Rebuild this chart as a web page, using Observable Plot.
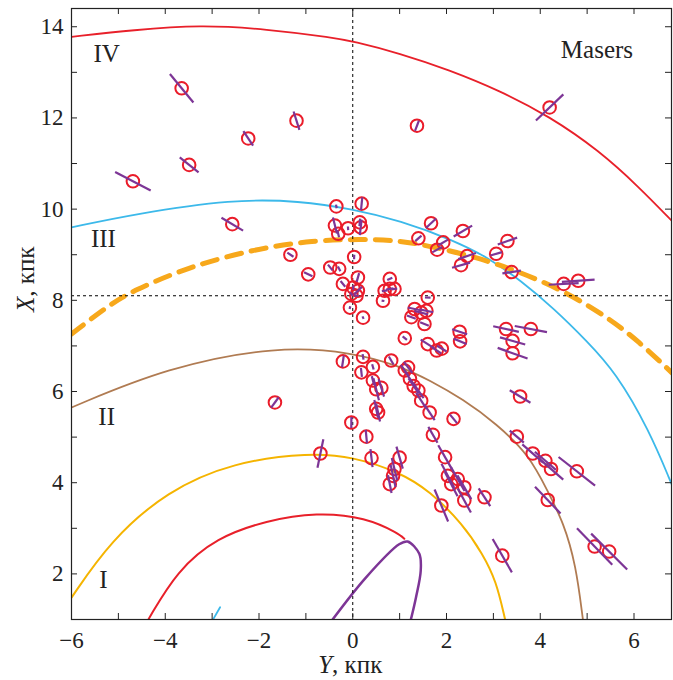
<!DOCTYPE html>
<html><head><meta charset="utf-8">
<script src="https://cdn.jsdelivr.net/npm/d3@7"></script>
<script src="https://cdn.jsdelivr.net/npm/@observablehq/plot@0.6"></script>
<style>body{margin:0;background:#fff}</style>
</head><body><div id="chart"></div>
<script>
// ---- Maser positions (Y, X in kpc) and distance error half-length (kpc)
const masY = [-3.65,-1.20,-2.23,-3.49,-4.69,-2.57,-1.33,-0.95,-0.48,-0.29,-1.66,-0.69,4.20,1.37,-0.35,0.19,1.67,2.35,1.40,1.93,1.80,3.30,3.06,2.44,2.31,3.39,4.50,4.81,
-0.38,-0.31,-0.10,0.15,0.17,0.03,
-0.21,0.11,0.01,0.11,-0.03,0.08,-0.06,0.22,0.79,0.79,0.68,0.89,0.645,
1.60,1.32,1.46,1.57,1.25,1.53,1.11,2.28,2.29,1.60,1.90,1.79,3.27,3.80,3.41,3.41,3.57,
-0.21,0.22,0.185,0.43,0.82,1.18,1.11,0.43,0.50,0.61,1.22,1.30,1.40,1.46,1.64,0.50,0.54,-0.03,0.29,1.71,2.15,0.40,1.00,0.89,0.86,0.79,1.97,2.03,2.24,2.10,2.38,2.38,2.81,1.89,3.19,5.16,5.47,3.50,3.84,4.11,4.23,4.78,4.16];
const masX = [12.65,11.94,11.55,10.97,10.61,9.67,9.00,8.57,8.72,8.69,5.76,4.64,12.23,11.83,10.06,10.12,9.69,9.52,9.36,9.27,9.11,9.30,9.02,8.97,8.77,8.62,8.36,8.43,
9.64,9.46,9.58,9.71,9.60,8.95,
8.36,8.50,8.28,8.21,8.14,8.10,7.84,7.62,8.47,8.25,8.21,8.25,7.99,
8.06,7.81,7.73,7.77,7.63,7.48,7.17,7.31,7.10,7.04,6.94,6.90,7.37,7.37,7.11,6.84,5.89,
6.66,6.76,6.42,6.54,6.68,6.53,6.46,6.24,6.05,6.08,6.28,6.12,6.02,5.80,5.54,5.62,5.54,5.32,5.01,5.05,5.40,4.54,4.55,4.30,4.15,3.97,4.56,4.15,4.08,3.97,3.90,3.61,3.68,3.50,2.40,2.60,2.49,5.01,4.64,4.48,4.30,4.25,3.62];
const masErr = [0.40,0.21,0.19,0.26,0.43,0.27,0.08,0.10,0.08,0.06,0.14,0.32,0.41,0.12,0.04,0.14,0.15,0.23,0.09,0.12,0.12,0.22,0.13,0.20,0.20,0.20,0.32,0.35,
0.18,0.08,0.04,0.08,0.17,0.05,
0.08,0.10,0.05,0.12,0.05,0.05,0.03,0.03,0.06,0.08,0.06,0.06,0.03,
0.06,0.15,0.15,0.15,0.10,0.10,0.06,0.17,0.15,0.18,0.12,0.12,0.28,0.35,0.28,0.34,0.26,
0.13,0.06,0.10,0.06,0.10,0.15,0.15,0.10,0.25,0.20,0.20,0.20,0.20,0.20,0.20,0.20,0.20,0.12,0.15,0.20,0.12,0.20,0.25,0.25,0.25,0.20,0.30,0.30,0.30,0.30,0.30,0.30,0.23,0.38,0.42,0.55,0.55,0.20,0.30,0.30,0.35,0.50,0.40];

// Sun position
const sunY = 0, sunX = 8.1;

// ---- Spiral arm tracings (Y, X in kpc)
const armIV_Y = [-6.0,-4.67,-3.26,-1.84,-0.4,0.0,1.0,2.06,3.13,4.19,5.26,6.11,6.81];
const armIV_X = [13.78,13.93,14.04,13.95,13.76,13.68,13.42,13.05,12.60,12.04,11.28,10.48,9.74];
const armIII_Y = [-6.0,-4.67,-2.55,-1.13,0.0,1.0,2.17,2.88,3.59,4.30,5.0,5.61,6.32,6.81];
const armIII_X = [9.60,9.89,10.22,10.18,10.0,9.75,9.31,8.94,8.43,7.81,7.10,6.42,5.16,3.95];
const local_Y = [-6.0,-5.17,-4.68,-3.54,-2.12,-0.85,0.28,0.99,1.70,2.62,3.55,4.54,5.46,6.10,6.81];
const local_X = [7.26,7.92,8.21,8.72,9.12,9.32,9.34,9.31,9.18,8.95,8.63,8.19,7.61,7.10,6.41];
const armII_Y = [-6.0,-3.96,-1.62,0.0,1.0,1.64,2.35,3.06,3.77,4.16,4.5,4.76,4.91];
const armII_X = [5.65,6.53,7.0,6.86,6.56,6.25,5.83,5.30,4.60,3.81,3.12,2.2,1.0];
const armI_Y = [-6.0,-5.17,-3.96,-2.55,-0.91,0.0,1.0,1.64,2.35,2.77,3.06,3.25];
const armI_X = [1.48,2.73,3.82,4.45,4.66,4.57,4.23,3.82,3.09,2.44,1.85,1.0];
const inner_Y = [-4.36,-3.75,-2.9,-1.84,-0.77,0.28,0.99,1.10];
const inner_X = [1.0,2.07,2.80,3.17,3.35,3.24,2.88,2.77];
const bar_Y = [-0.43,0.28,0.99,1.17,1.42,1.45,1.35,1.24];
const bar_X = [1.0,1.92,2.65,2.71,2.44,2.07,1.49,1.0];
const stub_Y = [-2.98,-2.83];
const stub_X = [1.0,1.27];

// ---- Labels
const armLabels = ["I","II","III","IV"];
const armLabelY = [-5.32,-5.25,-5.32,-5.25];
const armLabelX = [1.87,5.45,9.34,13.40];
const titleText = ["Masers"];
const titleY = [5.21], titleX = [13.50];

// ---- Ticks
const xTicks = d3.range(-6, 7, 1);
const xTickLabels = [-6,-4,-2,0,2,4,6];
const yTicks = d3.range(1, 15, 1);
const yTickLabels = [2,4,6,8,10,12,14];

const W = 673, H = 680, mL = 71, mR = 2, mT = 8, mB = 61;
const plotW = W - mL - mR, plotH = H - mT - mB;

const masers = masY.map((y, i) => ({Y: y, X: masX[i], e: masErr[i]}));
const segs = masers.map(d => {
  const dy = d.Y - sunY, dx = d.X - sunX;
  const L = Math.hypot(dy, dx) || 1;
  return {x1: d.Y - d.e*dy/L, y1: d.X - d.e*dx/L, x2: d.Y + d.e*dy/L, y2: d.X + d.e*dx/L};
});
const pts = (ys, xs) => ys.map((y, i) => ({Y: y, X: xs[i]}));
const arm = (ys, xs, opts) => Plot.line(pts(ys, xs), {x: "Y", y: "X", curve: "basis", clip: true, ...opts});

const serif = "'Liberation Serif','Times New Roman',serif";

const plot = Plot.plot({
  width: W, height: H, marginLeft: mL, marginRight: mR, marginTop: mT, marginBottom: mB,
  x: {domain: [-6, 6.8]},
  y: {domain: [1, 14.4]},
  style: {fontFamily: serif, fontSize: "23px", color: "#222", background: "#fff"},
  marks: [
    arm(armIV_Y, armIV_X, {stroke: "#e8202a", strokeWidth: 1.8}),
    arm(armIII_Y, armIII_X, {stroke: "#3cb9ea", strokeWidth: 1.8}),
    arm(local_Y, local_X, {stroke: "#f7a81b", strokeWidth: 5, strokeDasharray: "15,10"}),
    arm(armII_Y, armII_X, {stroke: "#b07b52", strokeWidth: 1.8}),
    arm(armI_Y, armI_X, {stroke: "#f5b400", strokeWidth: 2}),
    arm(inner_Y, inner_X, {stroke: "#e8202a", strokeWidth: 2}),
    arm(bar_Y, bar_X, {stroke: "#7d3596", strokeWidth: 2.5, curve: "catmull-rom"}),
    arm(stub_Y, stub_X, {stroke: "#3cb9ea", strokeWidth: 1.8}),
    Plot.ruleX([sunY], {stroke: "#000", strokeWidth: 1, strokeDasharray: "3,3"}),
    Plot.ruleY([sunX], {stroke: "#000", strokeWidth: 1, strokeDasharray: "3,3"}),
    Plot.dot(masers, {x: "Y", y: "X", r: 6.3, stroke: "#ea1c2a", strokeWidth: 2, fill: "none"}),
    Plot.link(segs, {x1: "x1", y1: "y1", x2: "x2", y2: "y2", stroke: "#7d3596", strokeWidth: 2.2}),
    Plot.tickX(xTicks, {x: d => d, insetTop: plotH - 6, stroke: "#222"}),
    Plot.tickX(xTicks, {x: d => d, insetBottom: plotH - 6, stroke: "#222"}),
    Plot.tickY(yTicks, {y: d => d, insetRight: plotW - 6, stroke: "#222"}),
    Plot.tickY(yTicks, {y: d => d, insetLeft: plotW - 6, stroke: "#222"}),
    Plot.axisX(xTickLabels, {tickSize: 0, tickPadding: 12, label: null}),
    Plot.axisY(yTickLabels, {tickSize: 0, tickPadding: 8, label: null}),
    Plot.frame({stroke: "#222", strokeWidth: 1.2}),
    Plot.text(armLabels, {x: (d, i) => armLabelY[i], y: (d, i) => armLabelX[i], text: d => d, fontSize: 25, fill: "#222", textAnchor: "middle", lineAnchor: "middle"}),
    Plot.text(titleText, {x: (d, i) => titleY[i], y: (d, i) => titleX[i], text: d => d, fontSize: 25, fill: "#222", textAnchor: "middle", lineAnchor: "middle"})
  ]
});

document.getElementById("chart").appendChild(plot);

// Axis titles
const svg = d3.select(plot);
const xs = plot.scale("x"), ys = plot.scale("y");
const xt = svg.append("text")
  .attr("x", xs.apply(0) - 2).attr("y", 673)
  .attr("text-anchor", "middle")
  .style("font-family", serif).style("font-size", "25px").attr("fill", "#222");
xt.append("tspan").style("font-style", "italic").text("Y");
xt.append("tspan").text(", кпк");
const yt = svg.append("text")
  .attr("transform", `translate(34,${ys.apply(8.45)}) rotate(-90)`)
  .attr("text-anchor", "middle")
  .style("font-family", serif).style("font-size", "25px").attr("fill", "#222");
yt.append("tspan").style("font-style", "italic").text("X");
yt.append("tspan").text(", кпк");
</script>
</body></html>
